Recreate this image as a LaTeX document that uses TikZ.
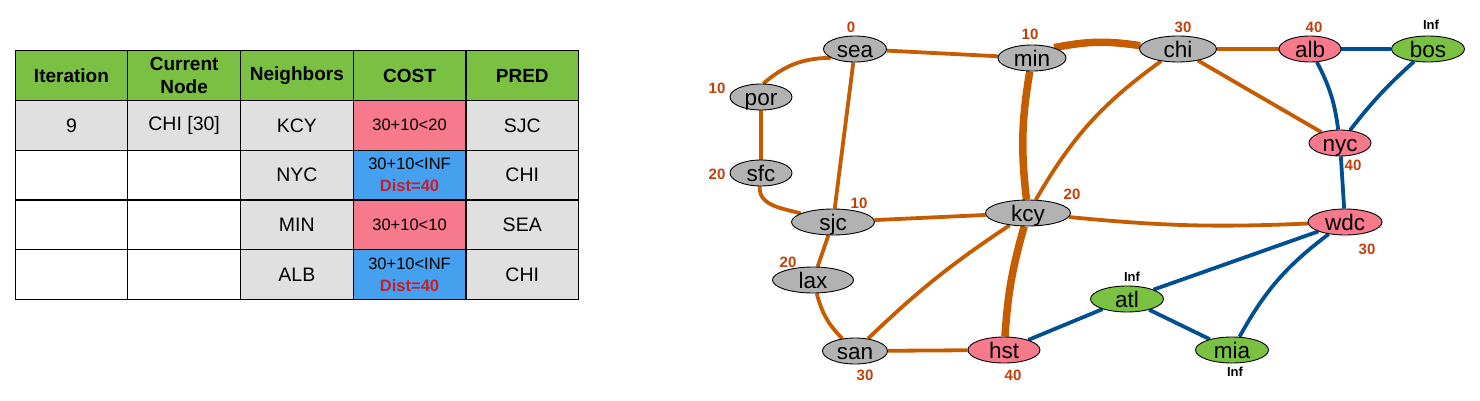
\documentclass[tikz,border=0pt]{standalone}
\usepackage{fontspec}
\setmainfont{Liberation Sans}
\usetikzlibrary{shapes.geometric,backgrounds}
\definecolor{hgreen}{RGB}{122,193,67}
\definecolor{cellgrey}{RGB}{224,224,224}
\definecolor{cellpink}{RGB}{246,122,140}
\definecolor{cellblue}{RGB}{70,160,240}
\definecolor{distred}{RGB}{200,30,42}
\definecolor{nodegrey}{RGB}{178,178,178}
\definecolor{edgeorange}{RGB}{198,92,0}
\definecolor{edgeblue}{RGB}{0,80,145}
\definecolor{lblorange}{RGB}{192,64,10}
\tikzset{
  cell/.style={draw=black, line width=1.2pt, minimum width=112.7pt, minimum height=49.8pt,
    anchor=north west, inner sep=0pt, align=center, fill=cellgrey,
    font=\fontsize{19.5}{23}\selectfont},
  headcell/.style={cell, fill=hgreen, font=\bfseries\fontsize{19}{23}\selectfont},
  blankcell/.style={cell, fill=white},
  costcell/.style={cell, font=\fontsize{16.5}{22}\selectfont},
  city/.style={ellipse, draw=black, line width=0.9pt, minimum height=26pt, inner sep=0pt, fill=nodegrey},
  citytext/.style={font=\fontsize{22.5}{26}\selectfont, text height=18pt, text depth=1pt, inner sep=0pt},
  numlbl/.style={font=\bfseries\fontsize{15}{17}\selectfont, text=lblorange, inner sep=0pt},
  inflbl/.style={font=\bfseries\fontsize{13}{15}\selectfont, text=black, inner sep=0pt},
  oe/.style={draw=edgeorange, line width=3.8pt},
  oethick/.style={draw=edgeorange, line width=7.5pt},
  be/.style={draw=edgeblue, line width=3.8pt}
}
\newcommand{\dst}{{\color{distred}\bfseries Dist=40}}
\begin{document}
\begin{tikzpicture}[x=1pt,y=1pt]
\useasboundingbox (0,0) rectangle (1480,-401);
% ---------- table ----------
\node[headcell] (h1) at (14.5,-50) {Iteration};
\node[headcell] (h2) at (127.2,-50) {Current\\Node};
\node[headcell] (h3) at (239.9,-50) {Neighbors};
\node[headcell] (h4) at (352.6,-50) {COST};
\node[headcell] (h5) at (465.3,-50) {PRED};
\node[cell] (r1c1) at (14.5,-99.8) {9};
\node[cell] (r1c2) at (127.2,-99.8) {CHI [30]};
\node[cell] (r1c3) at (239.9,-99.8) {KCY};
\node[costcell, fill=cellpink] (r1c4) at (352.6,-99.8) {30+10<20};
\node[cell] (r1c5) at (465.3,-99.8) {SJC};
\node[blankcell] (r2c1) at (14.5,-149.6) {};
\node[blankcell] (r2c2) at (127.2,-149.6) {};
\node[cell] (r2c3) at (239.9,-149.6) {NYC};
\node[costcell, fill=cellblue] (r2c4) at (352.6,-149.6) {30+10<INF\\\dst};
\node[cell] (r2c5) at (465.3,-149.6) {CHI};
\node[blankcell] (r3c1) at (14.5,-199.4) {};
\node[blankcell] (r3c2) at (127.2,-199.4) {};
\node[cell] (r3c3) at (239.9,-199.4) {MIN};
\node[costcell, fill=cellpink] (r3c4) at (352.6,-199.4) {30+10<10};
\node[cell] (r3c5) at (465.3,-199.4) {SEA};
\node[blankcell] (r4c1) at (14.5,-249.2) {};
\node[blankcell] (r4c2) at (127.2,-249.2) {};
\node[cell] (r4c3) at (239.9,-249.2) {ALB};
\node[costcell, fill=cellblue] (r4c4) at (352.6,-249.2) {30+10<INF\\\dst};
\node[cell] (r4c5) at (465.3,-249.2) {CHI};
% ---------- graph nodes ----------
\node[city, minimum width=63pt, label={[citytext]center:sea}] (sea) at (855,-49) {};
\node[city, minimum width=68pt, label={[citytext]center:min}] (min) at (1032,-58) {};
\node[city, minimum width=77pt, label={[citytext]center:chi}] (chi) at (1178,-49) {};
\node[city, minimum width=62pt, fill=cellpink, label={[citytext]center:alb}] (alb) at (1310,-49) {};
\node[city, minimum width=73pt, fill=hgreen, label={[citytext]center:bos}] (bos) at (1428,-49) {};
\node[city, minimum width=62pt, label={[citytext]center:por}] (por) at (761,-97) {};
\node[city, minimum width=62pt, label={[citytext]center:sfc}] (sfc) at (761,-173) {};
\node[city, minimum width=83pt, label={[citytext]center:sjc}] (sjc) at (833,-222) {};
\node[city, minimum width=85pt, label={[citytext]center:kcy}] (kcy) at (1028,-213) {};
\node[city, minimum width=62pt, fill=cellpink, label={[citytext]center:nyc}] (nyc) at (1340,-143) {};
\node[city, minimum width=74pt, fill=cellpink, label={[citytext]center:wdc}] (wdc) at (1345,-222) {};
\node[city, minimum width=81pt, label={[citytext]center:lax}] (lax) at (813,-280) {};
\node[city, minimum width=73pt, fill=hgreen, label={[citytext]center:atl}] (atl) at (1127,-299) {};
\node[city, minimum width=65pt, label={[citytext]center:san}] (san) at (855,-351) {};
\node[city, minimum width=72pt, fill=cellpink, label={[citytext]center:hst}] (hst) at (1004,-350) {};
\node[city, minimum width=73pt, fill=hgreen, label={[citytext]center:mia}] (mia) at (1232,-350) {};
% ---------- distance labels ----------
\node[numlbl] (lsea) at (851,-27) {0};
\node[numlbl] (lmin) at (1030,-34) {10};
\node[numlbl] (lchi) at (1183,-27) {30};
\node[numlbl] (lalb) at (1314,-27) {40};
\node[inflbl] (lbos) at (1431,-25) {Inf};
\node[numlbl] (lpor) at (717,-88) {10};
\node[numlbl] (lsfc) at (717,-174) {20};
\node[numlbl] (lsjc) at (859,-203) {10};
\node[numlbl] (lkcy) at (1072,-194) {20};
\node[numlbl] (lnyc) at (1353,-165) {40};
\node[numlbl] (lwdc) at (1367,-249) {30};
\node[numlbl] (llax) at (788,-262) {20};
\node[inflbl] (latl) at (1132,-277) {Inf};
\node[numlbl] (lsan) at (865,-375) {30};
\node[numlbl] (lhst) at (1013,-375) {40};
\node[inflbl] (lmia) at (1235,-372) {Inf};
% ---------- edges ----------
\begin{scope}[on background layer]
\draw[oe] (sea.200) to[bend right=20] (por.80);
\draw[oe] (sea) -- (min);
\draw[oe] (sea) -- (sjc);
\draw[oe] (por) -- (sfc);
\draw[oe] (sfc) to[out=-95,in=165] (sjc);
\draw[oethick] (min.25) to[bend left=10] (chi.175);
\draw[oethick] (min) to[bend right=8] (kcy);
\draw[oe] (chi) to[bend right=12] (kcy);
\draw[oe] (chi) -- (alb);
\draw[oe] (chi) -- (nyc);
\draw[oe] (sjc) -- (kcy);
\draw[oe] (kcy) to[bend right=4] (wdc);
\draw[oe] (kcy) to[bend right=5] (san);
\draw[oethick] (kcy) to[bend right=6] (hst);
\draw[oe] (sjc) -- (lax);
\draw[oe] (lax) to[bend right=15] (san);
\draw[oe] (san) -- (hst);
\draw[be] (alb) -- (bos);
\draw[be] (alb) to[bend left=10] (nyc);
\draw[be] (bos) to[bend right=5] (nyc);
\draw[be] (nyc) -- (wdc);
\draw[be] (wdc) -- (atl);
\draw[be] (wdc) to[bend right=12] (mia);
\draw[be] (atl) -- (mia);
\draw[be] (hst) -- (atl);
\end{scope}
\end{tikzpicture}
\end{document}
